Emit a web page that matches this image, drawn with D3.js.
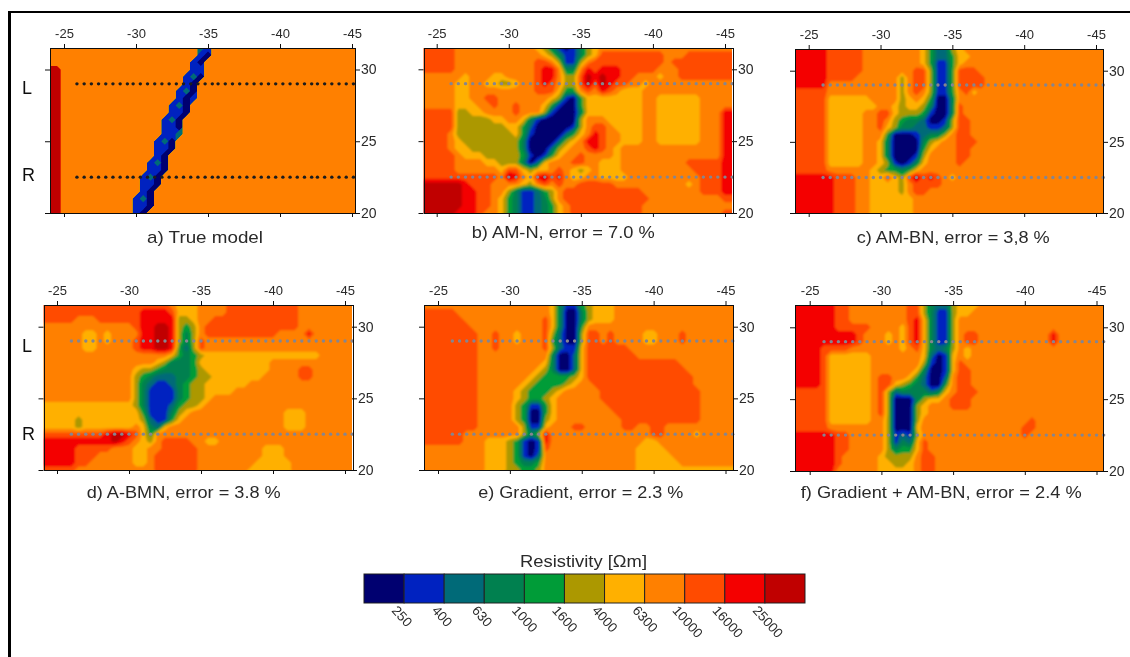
<!DOCTYPE html>
<html>
<head>
<meta charset="utf-8">
<style>
  html, body { margin: 0; padding: 0; background: #fff; }
  svg { display: block; }
  text { font-family: "Liberation Sans", Arial, sans-serif; fill: #2a2a2a; }
</style>
<script src="https://cdn.jsdelivr.net/npm/d3@7"></script>
</head>
<body>
<svg id="chart" width="1130" height="657"></svg>
<script>
// resistivity classes, lowest to highest
var classColors = ["#000070", "#0022c0", "#006a78", "#008050", "#009c38", "#ac9800", "#ffb000", "#ff8000", "#ff4c00", "#f40000", "#c00000"];
var classLimits = ["250", "400", "630", "1000", "1600", "4000", "6300", "10000", "16000", "25000"];

var xTicks = [25, 30, 35, 40, 45];
var yTicks = [20, 25, 30];
var profileY = [29, 22.5];

var electrodes = [26, 26.5, 27, 27.5, 28, 28.5, 29, 29.5, 30, 30.5, 31, 31.5, 32, 32.5, 33, 33.5, 34, 34.5, 35, 35.5, 36, 36.5, 37, 37.5, 38, 38.5, 39, 39.5, 40, 40.5, 41, 41.5, 42, 42.5, 43, 43.5, 44, 44.5, 45, 45.5];
var electrodesTrue = [25.9, 26.4, 26.9, 27.4, 27.9, 28.4, 28.9, 29.4, 29.8, 30.3, 30.8, 31.3, 31.8, 32.3, 32.8, 33.3, 33.8, 34.3, 34.8, 35.3, 35.7, 36.2, 36.7, 37.2, 37.7, 38.2, 38.7, 39.2, 39.7, 40.2, 40.7, 41.2, 41.7, 42.2, 42.6, 43.1, 43.6, 44.1, 44.6, 45.1];

// class of each cell: 44 columns (x 24 to 45.5), 24 rows (y 31.5 down to 20)
var trueModel = [
  "7777 7777 7777 7777 7777 7217 7777 7777 7777 7777 7777",
  "7777 7777 7777 7777 7777 7107 7777 7777 7777 7777 7777",
  "7777 7777 7777 7777 7777 1077 7777 7777 7777 7777 7777",
  "aa77 7777 7777 7777 7777 1177 7777 7777 7777 7777 7777",
  "aa77 7777 7777 7777 7771 2077 7777 7777 7777 7777 7777",
  "aa77 7777 7777 7777 7771 0777 7777 7777 7777 7777 7777",
  "aa77 7777 7777 7777 7712 0777 7777 7777 7777 7777 7777",
  "aa77 7777 7777 7777 7710 1777 7777 7777 7777 7777 7777",
  "aa77 7777 7777 7777 7120 7777 7777 7777 7777 7777 7777",
  "aa77 7777 7777 7777 7110 7777 7777 7777 7777 7777 7777",
  "aa77 7777 7777 7777 1207 7777 7777 7777 7777 7777 7777",
  "aa77 7777 7777 7777 1107 7777 7777 7777 7777 7777 7777",
  "aa77 7777 7777 7777 1127 7777 7777 7777 7777 7777 7777",
  "aa77 7777 7777 7771 2077 7777 7777 7777 7777 7777 7777",
  "aa77 7777 7777 7771 1077 7777 7777 7777 7777 7777 7777",
  "aa77 7777 7777 7771 0777 7777 7777 7777 7777 7777 7777",
  "aa77 7777 7777 7712 0777 7777 7777 7777 7777 7777 7777",
  "aa77 7777 7777 7711 0777 7777 7777 7777 7777 7777 7777",
  "aa77 7777 7777 7120 7777 7777 7777 7777 7777 7777 7777",
  "aa77 7777 7777 7110 7777 7777 7777 7777 7777 7777 7777",
  "aa77 7777 7777 7107 7777 7777 7777 7777 7777 7777 7777",
  "aa77 7777 7777 1207 7777 7777 7777 7777 7777 7777 7777",
  "aa77 7777 7777 1107 7777 7777 7777 7777 7777 7777 7777",
  "aa77 7777 7777 1077 7777 7777 7777 7777 7777 7777 7777"
];
var amN = [
  "8888 8777 7777 7777 6531 0135 6777 7777 7777 7777 7777",
  "8888 8777 7777 7777 7653 1135 6888 8888 8877 7888 8888",
  "8888 8777 7777 7777 8875 1157 8888 8888 8878 8888 8888",
  "8888 8777 7777 7777 8997 3379 8999 8888 8777 8888 8888",
  "7777 7767 7766 7777 8997 558a 9a99 8877 7677 8888 8888",
  "7777 7667 7665 5677 8987 558a 8a98 8776 7777 7777 7777",
  "7777 7667 7777 7777 8886 4478 7987 6667 7777 7777 7777",
  "7777 7667 7887 7777 7765 1046 6666 6667 7666 6667 7777",
  "7777 7666 7787 7877 7641 0046 6666 6667 7666 6667 7777",
  "8888 8556 6777 7877 7510 0036 6666 6667 7666 6667 7799",
  "8888 8555 5566 7763 1000 0057 7766 6667 7666 6667 7799",
  "8888 8555 5555 6642 0000 0157 8876 6667 7666 6667 7799",
  "8888 7555 5555 5641 0000 2467 9877 6667 7666 6667 7799",
  "8888 7655 5555 5530 0002 5679 9877 6667 7666 6667 7799",
  "8888 7665 5555 5530 0025 6778 9876 7777 7777 7777 7799",
  "8888 8766 6555 5541 0146 7787 7776 7777 7777 7777 7799",
  "8888 8777 7665 5530 2677 7887 7666 7777 7777 7888 8899",
  "8888 8777 7776 8865 6678 7656 7666 7777 7777 7788 8899",
  "8888 8888 8887 a976 9a89 7667 7666 6777 7777 7778 8899",
  "aaaa aa98 8877 7765 7878 7788 8887 7777 7777 7678 8899",
  "aaaa aa99 8877 5311 2457 8888 8888 8887 7777 7778 8899",
  "aaaa aa99 8876 4311 2357 8888 8888 8888 7777 7777 7788",
  "aaaa aa99 8876 4311 2346 7888 8888 8887 7777 7777 7777",
  "aaaa a999 8776 4311 2346 7888 8888 8887 7777 7777 7788"
];
var amBn = [
  "9999 9888 8877 7777 7764 2256 7777 7777 7777 7777 7777",
  "9999 9888 8877 7777 7764 2246 6777 7777 7777 7777 7777",
  "9999 9888 8877 7777 7764 1146 7777 7777 7777 7777 7777",
  "9999 9888 8877 7777 7885 1148 8877 7777 7777 7777 7777",
  "9999 9888 8777 7775 7885 1148 8887 7777 7777 7777 7777",
  "9999 9777 7777 7775 7885 1148 8887 7777 7777 7777 7777",
  "8888 8777 7777 7775 7875 1147 8677 7777 7777 7777 7777",
  "8888 8666 6667 7775 6764 0037 7777 7777 7777 7777 7777",
  "8888 8666 6666 7765 6653 0038 7777 7777 7777 7777 7777",
  "8888 8666 6677 8865 5541 0038 7777 7777 7777 7777 7777",
  "8888 8666 6677 8754 3320 0158 8777 7777 7777 7777 7777",
  "8888 8666 6677 8653 3221 1258 8777 7777 7777 7777 7777",
  "8888 8666 6677 7400 0123 3578 8777 7777 7777 7777 7777",
  "8888 8666 6677 6300 0035 6778 8877 7777 7777 7777 7777",
  "8888 8666 6677 6300 0046 7778 8777 7777 7777 7777 7777",
  "8888 8666 6677 6300 0157 7778 8777 7777 7777 7777 7777",
  "8888 8666 6677 6510 1367 7778 7777 7777 7777 7777 7777",
  "8888 8777 7776 5443 4677 7777 7777 7777 7777 7777 7777",
  "9999 9988 8776 6865 8a89 8767 7777 7777 7777 7777 7777",
  "9999 9988 8776 6665 7888 8777 7777 7777 7777 7777 7777",
  "9999 9988 8776 6665 7887 7777 7777 7777 7777 7777 7777",
  "9999 9988 8776 6666 6777 7777 7777 7777 7777 7777 7777",
  "9999 9988 8776 6666 6777 7777 7777 7777 7777 7777 7777",
  "9999 9988 8776 6666 6777 7777 7777 7777 7777 7777 7777"
];
var aBmn = [
  "8888 8888 8888 8888 8876 6677 7788 8888 8888 7777 7777",
  "8888 8888 8888 8899 9986 6677 7788 8888 8888 7777 7777",
  "8888 8777 8888 8899 9995 5677 8888 8888 8888 7777 7777",
  "7777 7777 7777 7899 aa95 4578 8888 8888 8888 7777 7777",
  "7777 7766 7677 7799 aa95 3578 8888 8888 8777 7977 7777",
  "7777 7766 7677 7899 aa95 3587 7777 7777 7777 7777 7777",
  "7777 7766 7777 7899 aa94 2587 7777 7777 7777 7777 7777",
  "7777 7777 7777 7777 7764 3456 6666 6666 6666 6667 7777",
  "7777 7777 7777 7777 6533 3466 6666 6666 7777 7777 7777",
  "7777 7777 7777 7655 4333 3456 6666 6666 7777 8877 7777",
  "7777 7777 7777 7543 2223 3455 6666 6667 7777 8877 7777",
  "7777 7777 7777 7532 1123 4556 6666 6777 7777 7777 7777",
  "7777 7777 7777 7531 1113 4556 6667 7777 7777 7777 7777",
  "7777 7777 7777 7531 1113 4556 7777 7777 7777 7777 7777",
  "6666 6666 6666 6531 1124 5567 7777 7777 7777 7777 7777",
  "6666 6666 6666 6641 1135 6777 7777 7777 7766 6777 7777",
  "6666 6566 6666 6652 1146 7777 7777 7777 7766 6777 7777",
  "6666 6566 6666 6763 2677 7777 7777 7777 7766 6777 7777",
  "8888 8888 89aa 9864 7777 7777 7777 7777 7777 7777 7777",
  "9999 9999 99a9 8765 7888 8776 6777 7777 7777 7777 7777",
  "9999 9888 8877 7667 7888 8877 7777 7776 6677 7777 7777",
  "9999 9888 7777 7667 8888 8877 7777 7776 6677 7777 7777",
  "9999 9887 7777 7667 8888 8877 7777 7766 6667 7777 7777",
  "8888 8777 7777 7777 8888 8877 7777 7666 6667 7777 7777"
];
var gradient = [
  "7777 7777 7777 7777 7763 1145 6667 7777 7777 7777 7777",
  "8888 8777 7777 7777 7763 0035 6667 7777 7777 7777 7777",
  "8888 8877 7777 7777 7863 0035 6667 7777 7777 7777 7777",
  "8888 8887 7777 7777 7863 0047 7777 7777 7777 7777 7777",
  "8888 8888 7787 7677 7852 0058 8787 7776 6777 8777 7777",
  "8888 8888 7787 7677 7842 0058 8787 7776 6777 8777 7777",
  "8888 8888 7787 7777 7852 1168 8888 8777 7777 7777 7777",
  "8888 8888 7777 7777 7730 0268 8888 8877 7777 7777 7777",
  "8888 8888 7777 7777 7630 0268 8888 8888 8888 7777 7777",
  "8888 8888 7777 7777 6530 0268 8888 8888 8888 8777 7777",
  "8888 8888 7777 7776 5444 4568 8888 8888 8888 8877 7777",
  "8888 8888 7777 7765 4444 5677 8888 8888 8888 8877 7777",
  "8888 8888 7777 7654 4456 7777 7888 8888 8888 8887 7777",
  "8888 8888 7777 7654 4567 7777 7888 8888 8888 8887 7777",
  "8888 8888 7777 7541 1467 7777 7788 8888 8888 8887 7777",
  "8888 8888 7777 7540 0467 7777 7778 8888 8888 8887 7777",
  "8888 8888 7777 7540 0567 7777 7777 8888 8888 8887 7777",
  "8888 8888 7777 7751 1677 7887 7777 8877 8877 7777 7777",
  "8888 8877 7777 7753 5977 7777 7777 7777 8877 7767 7777",
  "8888 8877 7666 5410 1977 7777 7777 7776 6777 7777 7777",
  "7777 7777 7666 5410 1877 7777 7777 7766 6677 7777 7777",
  "7777 7777 7666 5410 2777 7777 7777 7766 6667 7777 7777",
  "7777 7777 7666 5433 4777 7777 7777 7766 6666 7777 7777",
  "7777 7777 7666 5544 5777 7777 7777 7766 6666 6666 6666"
];
var gradientAmBn = [
  "9999 9988 7777 7777 8853 2256 6677 7777 7777 7777 7777",
  "9999 9988 7777 7777 8853 1156 6777 7777 7777 7777 7777",
  "9999 9988 7777 7777 8963 1157 7777 7777 7777 7777 7777",
  "9999 9988 8887 7776 8963 1157 7777 7777 7777 7777 7777",
  "9999 9999 9877 7676 8963 1157 8877 7777 7777 9777 7777",
  "9999 9999 9877 7676 8963 1157 8877 7777 7777 9777 7777",
  "9999 8888 7777 7776 7863 2357 6777 7777 7777 7777 7777",
  "9999 8666 6667 7777 7762 0167 6777 7777 7777 7777 7777",
  "9999 8666 6667 7777 7751 0168 7777 7777 7777 7777 7777",
  "9999 8666 6667 7777 7630 0168 8777 7777 7777 7777 7777",
  "9999 8666 6667 8877 6420 0278 8777 7777 7777 7777 7777",
  "9999 8666 6667 8865 4320 0478 8777 7777 7777 7777 7777",
  "8888 8666 6667 8523 3332 3678 8877 7777 7777 7777 7777",
  "8888 8666 6667 8500 0356 6788 8777 7777 7777 7777 7777",
  "8888 8666 6667 8500 0567 7788 8777 7777 7777 7777 7777",
  "8888 8666 6667 8500 0567 7777 7777 7777 7777 7777 7777",
  "8888 8666 6667 7500 0577 7777 7777 7777 7877 7777 7777",
  "8888 8777 7777 7500 0677 7777 7777 7777 8877 7777 7777",
  "9999 9988 7777 7512 1577 7777 7777 7777 8777 7777 7777",
  "9999 9988 7777 7513 2687 7777 7777 7777 7777 7777 7777",
  "9999 9988 7777 7534 4687 7777 7777 7777 7777 7777 7777",
  "9999 9987 7777 6555 5788 7777 7777 7777 7777 7777 7777",
  "9999 9987 7777 6655 6788 7777 7777 7777 7777 7777 7777",
  "9999 9977 7777 6666 6788 7777 7777 7777 7777 7777 7777"
];

var captions = ["a) True model", "b) AM-N, error = 7.0 %", "c) AM-BN, error = 3,8 %", "d) A-BMN, error = 3.8 %", "e) Gradient, error = 2.3 %", "f) Gradient + AM-BN, error = 2.4 %"];
var sideLabels = ["L", "R"];

// page layout, pixels
var panelLayout = [
  { grid: trueModel, sites: electrodesTrue, dot: "#1c1c1c", blocky: true, box: [50, 355, 48, 213], px25: 64, px45: 352, py20: 213, py30: 69.5, cap: [147, 243, 116] },
  { grid: amN, sites: electrodes, dot: "#858590", box: [423.5, 732, 48, 213], px25: 436.7, px45: 725, py20: 213, py30: 69.3, cap: [471.7, 238, 183] },
  { grid: amBn, sites: electrodes, dot: "#858590", box: [795, 1103, 49, 213], px25: 808.7, px45: 1096, py20: 213, py30: 70.7, cap: [856.7, 243, 193] },
  { grid: aBmn, sites: electrodes, dot: "#858590", box: [43.5, 352, 305, 470], px25: 57, px45: 345, py20: 470, py30: 326.7, cap: [86.7, 498, 194] },
  { grid: gradient, sites: electrodes, dot: "#858590", box: [424, 733, 305, 470], px25: 438, px45: 725.5, py20: 470, py30: 326.7, cap: [478.3, 498, 205] },
  { grid: gradientAmBn, sites: electrodes, dot: "#858590", box: [795, 1103, 305, 471], px25: 809.7, px45: 1096.5, py20: 471, py30: 327.3, cap: [800.7, 498, 281] }
];

var svg = d3.select("#chart");
var gridCols = 44, gridRows = 24, gridStep = 0.5;
var thresholds = classColors.slice(1).map(function(c, i) { return i + 0.5; });

// the scanned original is soft, so the contour bands and page get a slight blur
var defs = svg.append("defs");
function addBlur(id, amount) {
  defs.append("filter").attr("id", id)
    .attr("filterUnits", "userSpaceOnUse")
    .attr("x", 0).attr("y", 0).attr("width", 1130).attr("height", 657)
    .append("feGaussianBlur").attr("stdDeviation", amount);
}
addBlur("softBands", 0.9);
addBlur("softPage", 0.35);

var page = svg.append("g").attr("filter", "url(#softPage)");
page.append("rect").attr("width", 1130).attr("height", 657).attr("fill", "#fff");

function parseGrid(rows, name) {
  var cells = rows.join("").replace(/ /g, "");
  if (cells.length !== gridCols * gridRows) {
    throw new Error("Bad grid size in panel " + name + ": " + cells.length);
  }
  return cells.split("").map(function(ch) { return parseInt(ch, 16); });
}

function drawPanel(p, idx) {
  var b = p.box;
  var x = d3.scaleLinear().domain([25, 45]).range([p.px25, p.px45]);
  var y = d3.scaleLinear().domain([20, 30]).range([p.py20, p.py30]);
  var g = page.append("g");

  defs.append("clipPath").attr("id", "clip" + idx)
    .append("rect").attr("x", b[0]).attr("y", b[2]).attr("width", b[1] - b[0]).attr("height", b[3] - b[2]);

  var plot = g.append("g").attr("clip-path", "url(#clip" + idx + ")");
  var bands = plot.append("g");
  if (!p.blocky) bands.attr("filter", "url(#softBands)");

  var contours = d3.contours()
    .size([gridCols, gridRows])
    .smooth(!p.blocky)
    .thresholds(thresholds)(parseGrid(p.grid, captions[idx]));

  // contour points sit half a cell off the grid nodes
  var path = d3.geoPath(d3.geoTransform({
    point: function(cx, cy) {
      this.stream.point(x(24 + (cx - 0.5) * gridStep), y(31.5 - (cy - 0.5) * gridStep));
    }
  }));

  bands.append("rect")
    .attr("x", b[0] - 8).attr("y", b[2] - 8).attr("width", b[1] - b[0] + 16).attr("height", b[3] - b[2] + 16)
    .attr("fill", classColors[0]);
  bands.selectAll("path.band").data(contours).enter().append("path")
    .attr("class", "band")
    .attr("d", path)
    .attr("fill", function(d) { return classColors[Math.ceil(d.value)]; });

  // electrodes on the two profiles
  profileY.forEach(function(py) {
    g.selectAll(null).data(p.sites).enter().append("circle")
      .attr("cx", function(d) { return x(d); })
      .attr("cy", y(py))
      .attr("r", 1.7)
      .attr("fill", p.dot);
  });

  // frame
  g.append("rect")
    .attr("x", Math.round(b[0]) + 0.5).attr("y", Math.round(b[2]) + 0.5)
    .attr("width", Math.round(b[1] - b[0])).attr("height", Math.round(b[3] - b[2]))
    .attr("fill", "none").attr("stroke", "#111").attr("stroke-width", 1);

  var fmt = function(d) { return "-" + d; };
  var top = g.append("g").attr("transform", "translate(0," + b[2] + ")")
    .call(d3.axisTop(x).tickValues(xTicks).tickFormat(fmt).tickSize(4).tickPadding(6));
  var bottom = g.append("g").attr("transform", "translate(0," + b[3] + ")")
    .call(d3.axisBottom(x).tickValues(xTicks).tickFormat("").tickSize(4));
  var left = g.append("g").attr("transform", "translate(" + b[0] + ",0)")
    .call(d3.axisLeft(y).tickValues(yTicks).tickFormat("").tickSize(5));
  var right = g.append("g").attr("transform", "translate(" + b[1] + ",0)")
    .call(d3.axisRight(y).tickValues(yTicks).tickSize(5).tickPadding(1));

  [top, bottom, left, right].forEach(function(axis) {
    axis.select(".domain").remove();
    axis.selectAll("line").attr("stroke", "#111");
    axis.selectAll("text").attr("fill", "#2a2a2a").style("font-family", "Liberation Sans");
  });
  top.selectAll("text").style("font-size", "13px");
  right.selectAll("text").style("font-size", "14px");

  g.append("text")
    .attr("x", p.cap[0]).attr("y", p.cap[1])
    .attr("textLength", p.cap[2]).attr("lengthAdjust", "spacingAndGlyphs")
    .style("font-size", "17px")
    .text(captions[idx]);
}

panelLayout.forEach(drawPanel);

// L / R profile names, left column only
[[94, 180.5], [351.5, 440]].forEach(function(row) {
  row.forEach(function(py, i) {
    page.append("text").attr("x", 22).attr("y", py).style("font-size", "18px").style("fill", "#111").text(sideLabels[i]);
  });
});

// colour bar
var barX = d3.scaleBand().domain(d3.range(classColors.length)).range([364, 805]);
var barY = 574, barH = 29;
page.append("text")
  .attr("x", 520).attr("y", 567)
  .attr("textLength", 127).attr("lengthAdjust", "spacingAndGlyphs")
  .style("font-size", "17px")
  .text("Resistivity [\u03a9m]");
page.selectAll("rect.cell").data(classColors).enter().append("rect")
  .attr("class", "cell")
  .attr("x", function(d, i) { return barX(i); })
  .attr("y", barY)
  .attr("width", barX.bandwidth())
  .attr("height", barH)
  .attr("fill", function(d) { return d; })
  .attr("stroke", "#222")
  .attr("stroke-width", 1);
page.selectAll("text.limit").data(classLimits).enter().append("text")
  .attr("class", "limit")
  .attr("transform", function(d, i) {
    return "translate(" + (barX(i + 1) - 13) + ",611) rotate(48)";
  })
  .style("font-size", "13.5px")
  .text(function(d) { return d; });

// page border, top and left
page.append("rect").attr("x", 8).attr("y", 11).attr("width", 1122).attr("height", 2).attr("fill", "#000");
page.append("rect").attr("x", 8).attr("y", 11).attr("width", 3).attr("height", 646).attr("fill", "#000");
</script>
</body>
</html>
